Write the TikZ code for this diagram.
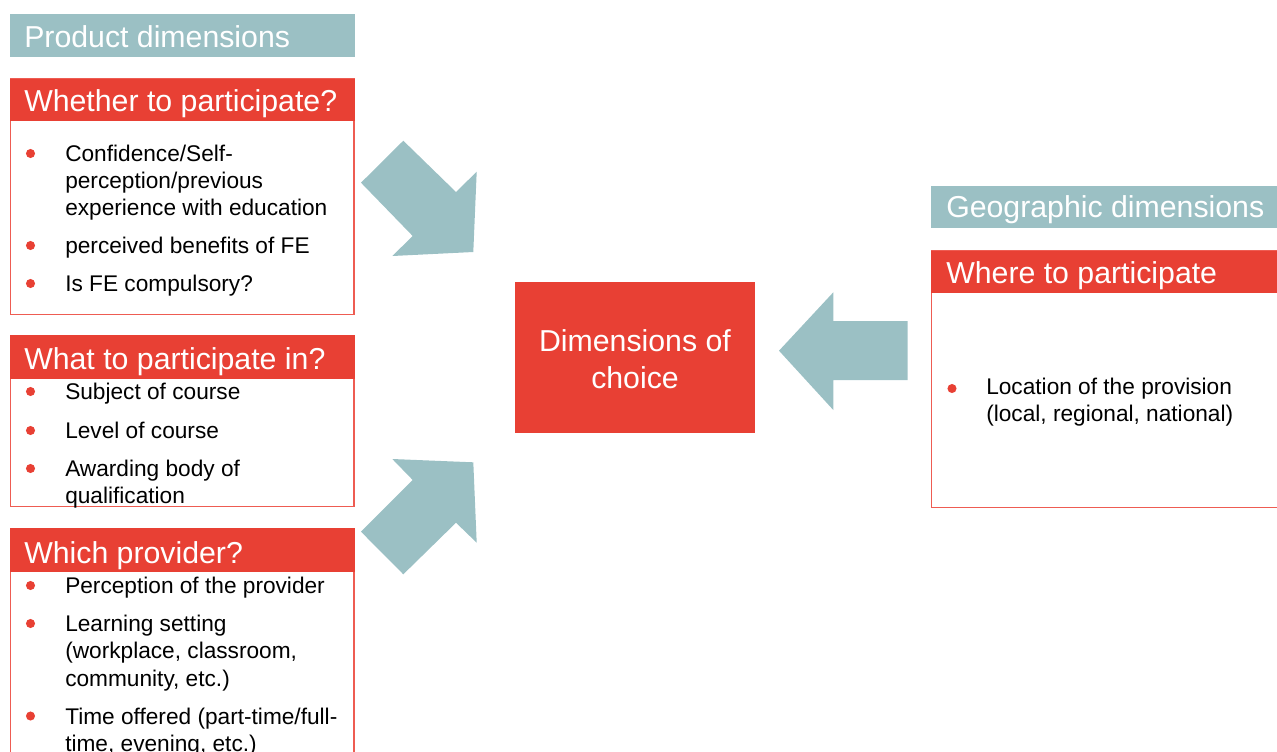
\documentclass[tikz,border=0pt]{standalone}
\usepackage{fontspec}
\setmainfont{Liberation Sans}
\definecolor{teal1}{RGB}{155,192,196}
\definecolor{red1}{RGB}{232,64,52}
\definecolor{redline}{RGB}{238,92,82}
\begin{document}
\begin{tikzpicture}[x=0.75pt,y=-0.75pt,
  tealbar/.style={fill=teal1,draw=none},
  headbar/.style={fill=red1,draw=none},
  frame/.style={draw=redline,line width=0.9pt},
  blockarrow/.style={fill=teal1,draw=none},
  headtext/.style={anchor=base west,inner sep=0pt,text=white,font=\fontsize{22.7}{27}\selectfont},
  bodytext/.style={anchor=base west,inner sep=0pt,text=black,font=\fontsize{17}{20}\selectfont},
  dot/.style={circle,fill=red1,draw=none,inner sep=0pt,minimum size=6.8pt}]
\useasboundingbox (0,0) rectangle (1277,751);
\clip (0,0) rectangle (1277,751);

% Product dimensions
\fill[tealbar] (10,14) rectangle (354.5,56.7);
\node[headtext] (prod) at (24,47.2) {Product dimensions};

% Box 1
\draw[frame] (10.5,79) rectangle (354,314.3);
\fill[headbar] (10,78.7) rectangle (354.5,120.7);
\node[headtext] (whether) at (24,111.5) {Whether to participate?};
\node[dot] (b11) at (30.5,153.5) {};
\node[bodytext] (t11a) at (65,161) {Confidence/Self-};
\node[bodytext] (t11b) at (65,188) {perception/previous};
\node[bodytext] (t11c) at (65,215) {experience with education};
\node[dot] (b12) at (30.5,245.5) {};
\node[bodytext] (t12) at (65,253) {perceived benefits of FE};
\node[dot] (b13) at (30.5,283.5) {};
\node[bodytext] (t13) at (65,291) {Is FE compulsory?};

% Box 2
\draw[frame] (10.5,336) rectangle (354,506.7);
\fill[headbar] (10,335.3) rectangle (354.5,379);
\node[headtext] (what) at (24,369.8) {What to participate in?};
\node[dot] (b21) at (30.5,391.5) {};
\node[bodytext] (t21) at (65,399) {Subject of course};
\node[dot] (b22) at (30.5,430.5) {};
\node[bodytext] (t22) at (65,438) {Level of course};
\node[dot] (b23) at (30.5,468.5) {};
\node[bodytext] (t23a) at (65,476) {Awarding body of};
\node[bodytext] (t23b) at (65,503) {qualification};

% Box 3
\draw[frame] (10.5,529) rectangle (354,780);
\fill[headbar] (10,528.3) rectangle (354.5,571.7);
\node[headtext] (which) at (24,563.2) {Which provider?};
\node[dot] (b31) at (30.5,585.5) {};
\node[bodytext] (t31) at (65,593) {Perception of the provider};
\node[dot] (b32) at (30.5,623.5) {};
\node[bodytext] (t32a) at (65,631) {Learning setting};
\node[bodytext] (t32b) at (65,658) {(workplace, classroom,};
\node[bodytext] (t32c) at (65,686) {community, etc.)};
\node[dot] (b33) at (30.5,716) {};
\node[bodytext] (t33a) at (65,724) {Time offered (part-time/full-};
\node[bodytext] (t33b) at (65,751) {time, evening, etc.)};

% Centre box
\fill[headbar] (515,282.3) rectangle (755,433.3);
\node[anchor=base,inner sep=0pt,text=white,font=\fontsize{22.7}{27}\selectfont] (dim1) at (635,351.8) {Dimensions of};
\node[anchor=base,inner sep=0pt,text=white,font=\fontsize{22.7}{27}\selectfont] (dim2) at (635,388.3) {choice};

% Geographic dimensions
\fill[tealbar] (931,186) rectangle (1290,228.3);
\node[headtext] (geo) at (946,217.5) {Geographic dimensions};
\draw[frame] (931.5,251) rectangle (1290,507.5);
\fill[headbar] (931,250.7) rectangle (1290,293.3);
\node[headtext] (where) at (946,283.2) {Where to participate};
\node[dot] (b41) at (952,388.5) {};
\node[bodytext] (t41a) at (986,394.3) {Location of the provision};
\node[bodytext] (t41b) at (986,421.7) {(local, regional, national)};

% Block arrows
\fill[blockarrow] (403.3,140.7) -- (456,192) -- (476.7,171.7) -- (473.3,252) -- (392.3,256) -- (412.7,236) -- (361,182.7) -- cycle;
\fill[blockarrow] (392.3,459) -- (473.3,462.3) -- (476.7,542.7) -- (456,522.7) -- (403.3,574.3) -- (361,531.7) -- (412.7,480) -- cycle;
\fill[blockarrow] (779,350.7) -- (833.3,292.3) -- (833.3,321) -- (907.7,321) -- (907.7,380) -- (833.3,380) -- (833.3,410) -- cycle;
\end{tikzpicture}
\end{document}
